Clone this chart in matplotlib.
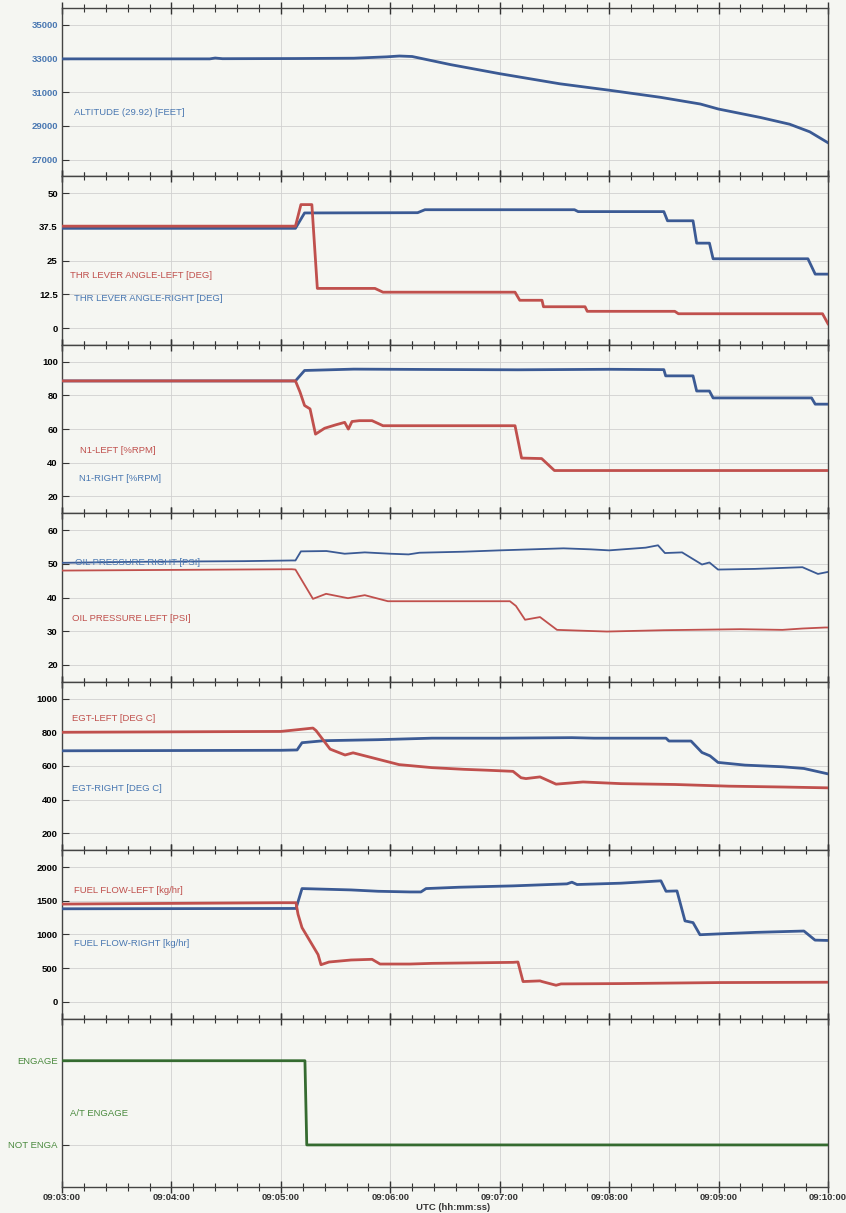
import matplotlib
matplotlib.use('Agg')
import matplotlib.pyplot as plt
from matplotlib.ticker import MultipleLocator, FuncFormatter

plt.rcParams['font.family'] = ['Liberation Sans', 'DejaVu Sans']

# time axis: seconds after 09:03:00
T_START = 9 * 3600 + 3 * 60

# altitude (ft)
alt_t = [0, 81, 84, 88, 128, 160, 178, 185, 192, 213, 240, 273, 300, 328, 350, 360, 383, 399, 410, 420]
alt_v = [32980, 32980, 33030, 32990, 33000, 33020, 33100, 33150, 33120, 32640, 32100, 31500, 31120,
         30700, 30300, 30000, 29500, 29100, 28650, 28000]

# throttle lever angle (deg)
tla_r_t = [0, 128, 133, 195, 199, 281, 283, 330, 332, 346, 348, 355, 357, 409, 413, 420]
tla_r_v = [37.0, 37.0, 42.7, 42.8, 43.9, 43.9, 43.2, 43.2, 39.8, 39.8, 31.5, 31.5, 25.7, 25.7, 20.0, 20.0]
tla_l_t = [0, 128, 131, 137, 140, 171.6, 176, 248.4, 251, 263.2, 264, 286.8, 288, 336, 338, 417, 420]
tla_l_v = [37.8, 37.8, 45.8, 45.8, 14.7, 14.7, 13.3, 13.3, 10.3, 10.3, 7.9, 7.9, 6.2, 6.2, 5.3, 5.3, 1.6]

# N1 (%RPM)
n1_r_t = [0, 128, 133, 160, 200, 250, 300, 330, 331, 346, 348, 355, 357, 411, 413, 420]
n1_r_v = [88.6, 88.6, 94.8, 95.6, 95.4, 95.2, 95.5, 95.3, 91.6, 91.6, 82.6, 82.6, 78.5, 78.5, 74.8, 74.8]
n1_l_t = [0, 128, 130.5, 133, 136, 139, 144, 150, 155, 157, 159, 163, 170, 176, 248.4, 252, 263, 270, 420]
n1_l_v = [88.6, 88.6, 82, 74, 72, 57, 60.5, 62.5, 64, 60, 64.5, 65, 65, 62, 62, 42.8, 42.5, 35.4, 35.4]

# oil pressure (psi)
oil_r_t = [0, 40, 100, 126, 128, 131, 145, 155, 166, 180, 190, 196, 220, 240, 275, 290, 300, 320, 326.8,
           330.6, 340, 350.9, 355, 359.7, 380, 406, 414.5, 420]
oil_r_v = [50.3, 50.6, 50.8, 51.0, 51.0, 53.7, 53.8, 53.0, 53.4, 53.0, 52.8, 53.3, 53.6, 54.0, 54.6, 54.3,
           54.0, 54.8, 55.5, 53.2, 53.4, 49.8, 50.4, 48.3, 48.5, 49.0, 47.0, 47.6]
oil_l_t = [0, 60, 126, 128, 137.6, 144.8, 156.8, 166, 178.7, 245.6, 248.9, 253.9, 262.1, 271.4, 298.8,
           330, 372, 395, 406, 418.4, 420]
oil_l_v = [48.0, 48.2, 48.4, 48.3, 39.6, 41.1, 39.8, 40.7, 38.9, 38.9, 37.5, 33.4, 34.2, 30.4, 29.9,
           30.3, 30.6, 30.4, 30.8, 31.1, 31.1]

# EGT (deg C)
egt_r_t = [0, 120, 128.9, 131.6, 143.7, 173.3, 202.9, 240, 279.6, 291.7, 331.2, 332.8, 344.9, 350.9,
           355.3, 359.7, 374.5, 395.3, 406.8, 420]
egt_r_v = [690, 693, 695, 738, 750, 756, 765, 765, 768, 765, 765, 748, 748, 680, 660, 621, 605, 595, 585, 553]
egt_l_t = [0, 120, 128.9, 137.6, 139.3, 144.2, 147, 155.2, 159.6, 173.3, 184.8, 202.9, 220.4, 232.5,
           247.3, 251.7, 254.4, 262.1, 270.9, 285.7, 306.5, 336.1, 365.7, 395.3, 420]
egt_l_v = [800, 805, 815, 825, 810, 740, 700, 665, 678, 640, 608, 590, 580, 575, 568, 530, 525, 535, 492,
           505, 495, 490, 480, 475, 470]

# fuel flow (kg/hr)
ff_r_t = [0, 128.3, 131.6, 158.5, 173.3, 190.8, 196.8, 199.6, 217.7, 247.3, 276.9, 279.6, 282.4, 306.5,
          328.4, 331.2, 337.2, 341.6, 346, 349.8, 362.4, 380.5, 406.8, 412.9, 420]
ff_r_v = [1380, 1385, 1680, 1660, 1640, 1630, 1630, 1680, 1700, 1720, 1750, 1775, 1740, 1760, 1795, 1640,
          1645, 1200, 1175, 995, 1010, 1030, 1050, 915, 910]
ff_l_t = [0, 120, 128.3, 129.4, 131.6, 136, 140.4, 142, 146.4, 158.5, 170, 174.4, 190.8, 202.9, 247.3,
          250, 252.8, 262.1, 263.2, 270.9, 273.6, 306.5, 360.2, 420]
ff_l_v = [1450, 1470, 1470, 1300, 1100, 900, 700, 550, 590, 620, 630, 560, 560, 570, 585, 590, 300, 310,
          300, 245, 265, 270, 285, 290]

# autothrottle engage (1 = ENGAGE, 0 = NOT ENGAGED)
at_t = [0, 133.2, 134.2, 420]
at_v = [1, 1, 0, 0]

BLUE = '#3b5a94'
BLUE_TXT = '#4a78b2'
RED = '#c0504d'
RED_TXT = '#c0504d'
GREEN = '#356b30'
GREEN_TXT = '#4a8a3e'
BG = '#f5f6f2'


def fmt_time(x, pos):
    s = int(round(T_START + x))
    return f'{s // 3600:02d}:{(s % 3600) // 60:02d}:{s % 60:02d}'


fig = plt.figure(figsize=(8.46, 12.13), dpi=100, facecolor=BG)
axes = fig.subplots(7, 1, sharex=True)
fig.subplots_adjust(left=0.0733, right=0.9787, top=0.9934, bottom=0.0214, hspace=0)

panels = [
    (alt_t, alt_v, None, None, (26000, 36000), [27000, 29000, 31000, 33000, 35000]),
    (tla_r_t, tla_r_v, tla_l_t, tla_l_v, (-6.25, 56.25), [0, 12.5, 25, 37.5, 50]),
    (n1_r_t, n1_r_v, n1_l_t, n1_l_v, (10, 110), [20, 40, 60, 80, 100]),
    (oil_r_t, oil_r_v, oil_l_t, oil_l_v, (15, 65), [20, 30, 40, 50, 60]),
    (egt_r_t, egt_r_v, egt_l_t, egt_l_v, (100, 1100), [200, 400, 600, 800, 1000]),
    (ff_r_t, ff_r_v, ff_l_t, ff_l_v, (-250, 2250), [0, 500, 1000, 1500, 2000]),
]

for i, (bt, bv, rt, rv, lim, ticks) in enumerate(panels):
    ax = axes[i]
    lw = 1.3 if i == 3 else 2.0
    ax.plot(bt, bv, color=BLUE, lw=lw, zorder=3)
    if rt is not None:
        ax.plot(rt, rv, color=RED, lw=lw, zorder=3)
    ax.set_ylim(*lim)
    ax.set_yticks(ticks)
    ax.set_yticklabels([f'{v:g}' for v in ticks])

axes[6].plot(at_t, at_v, color=GREEN, lw=2.0, zorder=3)
axes[6].set_ylim(-0.5, 1.5)
axes[6].set_yticks([0, 1])
axes[6].set_yticklabels(['NOT ENGA', 'ENGAGE'])

for i, ax in enumerate(axes):
    ax.set_facecolor(BG)
    ax.set_xlim(0, 420)
    ax.xaxis.set_major_locator(MultipleLocator(60))
    ax.xaxis.set_minor_locator(MultipleLocator(12))
    ax.xaxis.set_major_formatter(FuncFormatter(fmt_time))
    ax.grid(True, which='major', color='#d0d0d0', lw=0.6)
    ax.tick_params(axis='x', which='major', direction='inout', length=9, width=1.0,
                   top=True, bottom=True, color='#333333', labelsize=6.8, pad=0)
    ax.tick_params(axis='x', which='minor', direction='inout', length=6, width=0.8,
                   top=True, bottom=True, color='#333333')
    ax.tick_params(axis='y', direction='in', length=5, width=0.8, color='#333333',
                   labelsize=6.8, pad=3)
    if i < 6:
        ax.tick_params(axis='x', labelbottom=False)
    for lbl in ax.get_yticklabels():
        lbl.set_fontweight('bold')
    for sp in ax.spines.values():
        sp.set_color('#444444')
        sp.set_linewidth(1.0)

for lbl in axes[0].get_yticklabels():
    lbl.set_color(BLUE_TXT)
for lbl in axes[6].get_yticklabels():
    lbl.set_color(GREEN_TXT)
    lbl.set_fontweight('normal')
for lbl in axes[6].get_xticklabels():
    lbl.set_fontweight('bold')
    lbl.set_color('#333333')

fs = 6.8
axes[0].text(0.0157, 0.377, 'ALTITUDE (29.92) [FEET]', color=BLUE_TXT, fontsize=fs,
             transform=axes[0].transAxes, va='center')
axes[1].text(0.011, 0.4125, 'THR LEVER ANGLE-LEFT [DEG]', color=RED_TXT, fontsize=fs,
             transform=axes[1].transAxes, va='center')
axes[1].text(0.015, 0.276, 'THR LEVER ANGLE-RIGHT [DEG]', color=BLUE_TXT, fontsize=fs,
             transform=axes[1].transAxes, va='center')
axes[2].text(0.023, 0.373, 'N1-LEFT [%RPM]', color=RED_TXT, fontsize=fs,
             transform=axes[2].transAxes, va='center')
axes[2].text(0.022, 0.209, 'N1-RIGHT [%RPM]', color=BLUE_TXT, fontsize=fs,
             transform=axes[2].transAxes, va='center')
axes[3].text(0.017, 0.706, 'OIL PRESSURE RIGHT [PSI]', color=BLUE_TXT, fontsize=fs,
             transform=axes[3].transAxes, va='center', zorder=4)
axes[3].text(0.013, 0.377, 'OIL PRESSURE LEFT [PSI]', color=RED_TXT, fontsize=fs,
             transform=axes[3].transAxes, va='center')
axes[4].text(0.013, 0.784, 'EGT-LEFT [DEG C]', color=RED_TXT, fontsize=fs,
             transform=axes[4].transAxes, va='center')
axes[4].text(0.013, 0.365, 'EGT-RIGHT [DEG C]', color=BLUE_TXT, fontsize=fs,
             transform=axes[4].transAxes, va='center')
axes[5].text(0.016, 0.762, 'FUEL FLOW-LEFT [kg/hr]', color=RED_TXT, fontsize=fs,
             transform=axes[5].transAxes, va='center')
axes[5].text(0.016, 0.446, 'FUEL FLOW-RIGHT [kg/hr]', color=BLUE_TXT, fontsize=fs,
             transform=axes[5].transAxes, va='center')
axes[6].text(0.011, 0.439, 'A/T ENGAGE', color=GREEN_TXT, fontsize=fs,
             transform=axes[6].transAxes, va='center')

fig.text(453 / 846, 1 - 1208 / 1213, 'UTC (hh:mm:ss)', ha='center', va='center',
         fontsize=fs, fontweight='bold', color='#333333')

fig.savefig('out.png', dpi=100, facecolor=BG)
